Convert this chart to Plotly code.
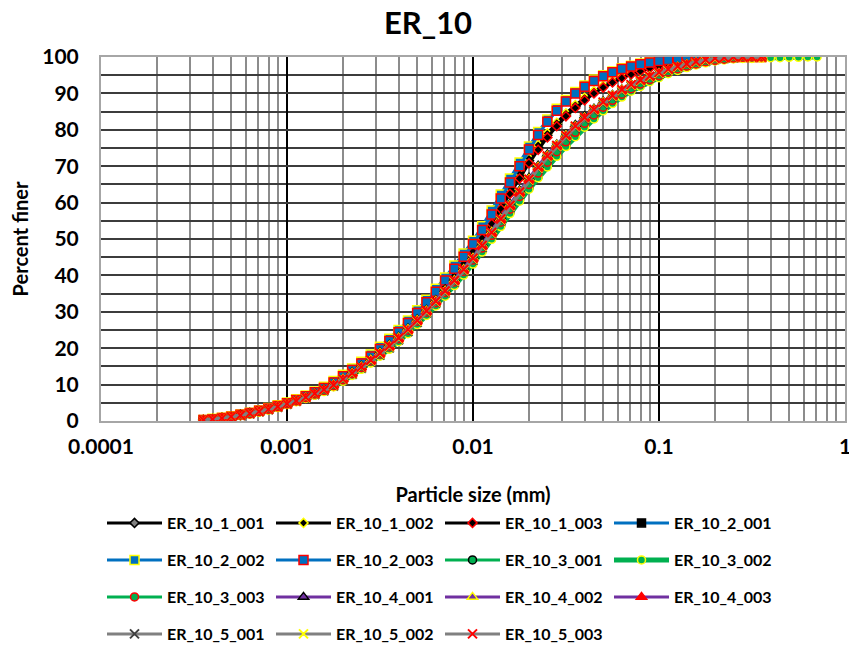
import plotly.graph_objects as go

# particle size bins (mm)
size_mm = [0.000355, 0.000398, 0.000447, 0.000501, 0.000562, 0.000631, 0.000708, 0.000794, 0.000891,
           0.001, 0.00112, 0.00126, 0.00141, 0.00158, 0.00178, 0.002, 0.00224, 0.00251, 0.00282, 0.00316,
           0.00355, 0.00398, 0.00447, 0.00501, 0.00562, 0.00631, 0.00708, 0.00794, 0.00891,
           0.01, 0.0112, 0.0126, 0.0141, 0.0158, 0.0178, 0.02, 0.0224, 0.0251, 0.0282, 0.0316,
           0.0355, 0.0398, 0.0447, 0.0501, 0.0562, 0.0631, 0.0708, 0.0794, 0.0891,
           0.1, 0.112, 0.126, 0.141, 0.158, 0.178, 0.2, 0.224, 0.251, 0.282, 0.316, 0.355]
size_mm_long = size_mm + [0.398, 0.447, 0.501, 0.562, 0.631, 0.708]

ER_10_1_001 = [0.3,0.6,0.9,1.3,1.7,2.2,2.8,3.4,4.1,4.9,5.7,6.7,7.8,8.9,10.4,12.1,13.7,15.5,17.4,19.4,21.5,23.9,26.3,29.0,31.7,34.6,37.6,40.7,43.9,47.2,51.0,55.0,59.1,63.2,67.4,71.5,75.2,78.5,81.5,84.1,86.4,88.5,90.3,91.9,93.2,94.4,95.4,96.2,97.0,97.6,98.1,98.6,99.0,99.3,99.5,99.7,99.9,100,100,100,100]
ER_10_1_002 = [0.3,0.6,0.9,1.3,1.7,2.2,2.8,3.4,4.1,4.9,5.8,6.8,7.9,9.0,10.5,12.3,14.0,15.8,17.8,19.8,22.0,24.4,26.9,29.6,32.4,35.3,38.3,41.4,44.6,48.0,51.8,55.8,59.9,64.0,68.1,72.1,75.8,79.0,81.9,84.5,86.8,88.8,90.6,92.1,93.4,94.6,95.5,96.3,97.1,97.7,98.2,98.7,99.1,99.4,99.6,99.8,99.9,100,100,100,100]
ER_10_1_003 = [0.3,0.5,0.8,1.2,1.6,2.1,2.7,3.3,4.0,4.8,5.6,6.6,7.6,8.7,10.2,11.8,13.4,15.2,17.0,19.0,21.1,23.4,25.8,28.4,31.1,34.0,37.0,40.1,43.3,46.6,50.3,54.2,58.3,62.4,66.6,70.8,74.5,77.9,81.0,83.7,86.0,88.1,90.0,91.6,93.0,94.2,95.2,96.1,96.9,97.5,98.0,98.5,98.9,99.2,99.5,99.7,99.8,99.9,100,100,100]
ER_10_2_001 = [0.3,0.6,0.9,1.3,1.8,2.3,2.9,3.5,4.2,5.0,5.9,6.9,8.0,9.2,10.8,12.5,14.2,16.0,18.0,20.1,22.3,24.7,27.2,30.0,32.9,35.9,39.0,42.2,45.5,49.0,53.0,57.2,61.6,66.0,70.5,75.0,79.0,82.5,85.5,88.0,90.2,92.0,93.6,94.9,95.9,96.8,97.5,98.1,98.6,99.0,99.3,99.5,99.7,99.8,99.9,99.9,100,100,100,100,100]
ER_10_2_002 = [0.3,0.6,0.9,1.3,1.8,2.3,2.9,3.6,4.3,5.1,6.0,7.0,8.1,9.4,11.0,12.7,14.4,16.3,18.3,20.4,22.6,25.0,27.6,30.4,33.3,36.3,39.4,42.7,46.0,49.5,53.5,57.8,62.2,66.6,71.0,75.4,79.4,82.8,85.8,88.2,90.4,92.2,93.8,95.0,96.0,96.9,97.6,98.2,98.7,99.1,99.4,99.6,99.8,99.9,99.9,100,100,100,100,100,100]
ER_10_2_003 = [0.3,0.5,0.8,1.2,1.7,2.2,2.8,3.4,4.1,4.9,5.8,6.8,7.9,9.1,10.6,12.3,14.0,15.8,17.7,19.8,22.0,24.4,26.9,29.7,32.6,35.5,38.6,41.8,45.1,48.6,52.5,56.7,61.1,65.5,70.0,74.6,78.6,82.2,85.2,87.8,90.0,91.8,93.4,94.7,95.8,96.7,97.4,98.0,98.5,98.9,99.2,99.5,99.7,99.8,99.9,99.9,100,100,100,100,100]
ER_10_3_001 = [0.3,0.5,0.7,1.2,1.5,2.0,2.5,3.1,3.8,4.6,5.4,6.3,7.2,8.2,9.5,11.1,12.7,14.4,16.1,18.0,19.9,22.1,24.3,26.8,29.3,31.9,34.6,37.5,40.4,43.4,46.7,50.2,53.7,57.3,60.7,64.0,67.1,70.1,73.0,75.7,78.4,81.0,83.3,85.5,87.5,89.3,90.9,92.2,93.5,94.6,95.7,96.6,97.4,98.0,98.6,99.1,99.4,99.6,99.8,99.9,100]
ER_10_3_002 = [0.3,0.5,0.7,1.1,1.5,1.9,2.4,3.0,3.7,4.5,5.3,6.2,7.1,8.1,9.4,10.9,12.5,14.2,15.9,17.8,19.7,21.8,24.0,26.5,29.0,31.6,34.3,37.2,40.1,43.1,46.4,49.9,53.4,57.0,60.4,63.7,66.8,69.8,72.7,75.4,78.1,80.7,83.0,85.2,87.2,89.0,90.6,91.9,93.2,94.3,95.4,96.3,97.1,97.8,98.4,98.9,99.2,99.5,99.6,99.6,99.7,99.8,99.8,99.9,99.9,100,100]
ER_10_3_003 = [0.3,0.5,0.8,1.2,1.6,2.0,2.6,3.2,3.9,4.7,5.5,6.4,7.4,8.4,9.7,11.3,13.0,14.7,16.5,18.4,20.4,22.6,24.9,27.4,29.9,32.5,35.3,38.2,41.1,44.2,47.5,51.0,54.6,58.2,61.7,65.0,68.1,71.1,74.0,76.7,79.3,81.8,84.1,86.2,88.1,89.8,91.3,92.6,93.8,94.9,95.9,96.8,97.5,98.1,98.7,99.1,99.4,99.7,99.9,100,100]
ER_10_4_001 = [0.3,0.5,0.8,1.2,1.7,2.2,2.7,3.3,4.0,4.8,5.6,6.6,7.6,8.7,10.1,11.7,13.4,15.1,17.0,18.9,20.9,23.1,25.4,27.9,30.5,33.2,36.1,39.0,42.0,45.1,48.6,52.2,55.9,59.6,63.3,66.8,70.1,73.2,76.0,78.7,81.3,83.7,85.8,87.8,89.6,91.1,92.5,93.7,94.8,95.8,96.6,97.4,98.1,98.7,99.2,99.5,99.8,99.9,100,100,100]
ER_10_4_002 = [0.3,0.5,0.8,1.2,1.6,2.1,2.7,3.3,4.0,4.8,5.6,6.5,7.5,8.6,10.0,11.6,13.2,14.9,16.8,18.7,20.7,22.9,25.2,27.7,30.3,33.0,35.8,38.7,41.7,44.8,48.3,51.9,55.6,59.3,63.0,66.5,69.8,72.9,75.8,78.5,81.0,83.4,85.6,87.6,89.4,91.0,92.4,93.6,94.7,95.6,96.5,97.3,98.0,98.6,99.1,99.5,99.7,99.9,100,100,100]
ER_10_4_003 = [0.3,0.5,0.8,1.2,1.6,2.1,2.6,3.2,3.9,4.7,5.5,6.4,7.4,8.5,9.8,11.4,13.0,14.7,16.5,18.4,20.4,22.6,24.9,27.4,30.0,32.7,35.5,38.4,41.4,44.5,48.0,51.6,55.3,59.0,62.7,66.2,69.5,72.6,75.5,78.2,80.8,83.2,85.4,87.4,89.2,90.8,92.2,93.4,94.5,95.5,96.4,97.2,97.9,98.5,99.0,99.4,99.7,99.9,100,100,100]
ER_10_5_001 = [0.3,0.5,0.8,1.1,1.5,2.0,2.5,3.1,3.8,4.6,5.4,6.3,7.3,8.3,9.6,11.2,12.8,14.5,16.2,18.1,20.1,22.3,24.6,27.1,29.7,32.4,35.2,38.1,41.1,44.2,47.7,51.3,55.0,58.7,62.4,65.9,69.2,72.3,75.2,77.9,80.5,82.9,85.1,87.1,88.9,90.5,92.0,93.2,94.3,95.3,96.2,97.0,97.7,98.3,98.8,99.3,99.6,99.8,100,100,100]
ER_10_5_002 = [0.3,0.5,0.8,1.2,1.6,2.1,2.6,3.2,3.9,4.7,5.5,6.4,7.4,8.5,9.8,11.4,13.0,14.7,16.5,18.4,20.4,22.6,24.9,27.4,30.0,32.7,35.5,38.4,41.4,44.5,48.0,51.6,55.3,59.0,62.7,66.2,69.5,72.6,75.5,78.2,80.8,83.2,85.4,87.4,89.2,90.8,92.2,93.4,94.5,95.5,96.4,97.2,97.9,98.5,99.0,99.4,99.7,99.9,100,100,100]
ER_10_5_003 = [0.3,0.5,0.8,1.2,1.6,2.1,2.6,3.2,3.9,4.7,5.5,6.5,7.5,8.6,9.9,11.5,13.1,14.8,16.7,18.6,20.6,22.8,25.1,27.6,30.2,32.9,35.7,38.6,41.6,44.7,48.2,51.8,55.5,59.2,62.9,66.4,69.7,72.8,75.7,78.4,81.0,83.4,85.6,87.6,89.4,91.0,92.4,93.6,94.7,95.7,96.6,97.4,98.1,98.7,99.2,99.6,99.8,100,100,100,100]

series_names = ["ER_10_1_001", "ER_10_1_002", "ER_10_1_003",
                "ER_10_2_001", "ER_10_2_002", "ER_10_2_003",
                "ER_10_3_001", "ER_10_3_002", "ER_10_3_003",
                "ER_10_4_001", "ER_10_4_002", "ER_10_4_003",
                "ER_10_5_001", "ER_10_5_002", "ER_10_5_003"]
series_values = [ER_10_1_001, ER_10_1_002, ER_10_1_003,
                 ER_10_2_001, ER_10_2_002, ER_10_2_003,
                 ER_10_3_001, ER_10_3_002, ER_10_3_003,
                 ER_10_4_001, ER_10_4_002, ER_10_4_003,
                 ER_10_5_001, ER_10_5_002, ER_10_5_003]

x_tick_vals = [0.0001, 0.001, 0.01, 0.1, 1]
x_tick_text = ["0.0001", "0.001", "0.01", "0.1", "1"]

BLACK, BLUE, GREEN, PURPLE, GREY = "#000000", "#0070C0", "#00B050", "#7030A0", "#808080"
# (line colour, line width, symbol, fill, edge, size)
styles = [
    (BLACK, 3, "diamond", "#808080", "#000000", 7),
    (BLACK, 3, "diamond", "#000000", "#FFFF00", 7),
    (BLACK, 3, "diamond", "#000000", "#FF0000", 7),
    (BLUE, 3, "square", "#000000", "#000000", 8),
    (BLUE, 3, "square", BLUE, "#FFFF00", 9),
    (BLUE, 3, "square", BLUE, "#FF0000", 9),
    (GREEN, 3, "circle", GREEN, "#000000", 8),
    (GREEN, 5, "circle", GREEN, "#FFFF00", 8),
    (GREEN, 3, "circle", GREEN, "#FF0000", 8),
    (PURPLE, 3, "triangle-up", PURPLE, "#000000", 9),
    (PURPLE, 3, "triangle-up", PURPLE, "#FFFF00", 9),
    (PURPLE, 3, "triangle-up", "#FF0000", "#FF0000", 9),
    (GREY, 3, "x-thin", GREY, "#404040", 9),
    (GREY, 3, "x-thin", GREY, "#FFFF00", 9),
    (GREY, 3, "x-thin", GREY, "#FF0000", 9),
]

FONT = "Lato"
# the page places the figure 8 px from the top-left corner; compensate here
OFF = 8
W, H = 857 - OFF, 654 - OFF

fig = go.Figure()
for i, (name, vals) in enumerate(zip(series_names, series_values)):
    lc, lw, sym, fill, edge, msz = styles[i]
    xs = size_mm_long if len(vals) == len(size_mm_long) else size_mm
    legend_id = "legend" if i < 4 else ("legend2" if i < 8 else ("legend3" if i < 12 else "legend4"))
    fig.add_trace(go.Scatter(
        x=xs, y=vals, name=name, mode="lines+markers",
        line=dict(color=lc, width=lw),
        marker=dict(symbol=sym, size=msz, color=fill if sym != "x-thin" else edge,
                    line=dict(color=edge, width=2 if sym == "x-thin" else 1.5)),
        legend=legend_id,
    ))

row_y = [523 - OFF, 560 - OFF, 597 - OFF, 634 - OFF]
legend_common = dict(orientation="h", xref="container", yref="container",
                     x=(102 - OFF) / W, xanchor="left", yanchor="middle",
                     font=dict(family=FONT, size=16, color="#000000", weight="bold"),
                     entrywidth=99, entrywidthmode="pixels", itemwidth=55,
                     bgcolor="rgba(0,0,0,0)", tracegroupgap=0)

fig.update_layout(
    width=W, height=H,
    margin=dict(l=101 - OFF, r=12, t=57 - OFF, b=233, autoexpand=False),
    paper_bgcolor="white", plot_bgcolor="white",
    font=dict(family=FONT, color="#000000"),
    title=dict(text="<b>ER_10</b>", x=(428 - OFF) / W, xref="container", xanchor="center",
               y=1 - (23 - OFF) / H, yref="container", yanchor="middle",
               font=dict(family=FONT, size=31, color="#000000")),
    showlegend=True,
    legend=dict(legend_common, y=1 - row_y[0] / H),
    legend2=dict(legend_common, y=1 - row_y[1] / H),
    legend3=dict(legend_common, y=1 - row_y[2] / H),
    legend4=dict(legend_common, y=1 - row_y[3] / H),
)

fig.update_xaxes(
    type="log", range=[-4, 0],
    tickvals=x_tick_vals, ticktext=x_tick_text,
    tickfont=dict(family=FONT, size=21, color="#000000", weight="bold"),
    ticks="", ticklabelstandoff=6,
    showgrid=True, gridcolor="#000000", gridwidth=2,
    minor=dict(dtick="D1", showgrid=True, gridcolor="#8C8C8C", gridwidth=2, ticks=""),
    showline=True, mirror=True, linecolor="#A6A6A6", linewidth=2,
    zeroline=False, automargin=False,
    title=dict(text="<b>Particle size (mm)</b>", standoff=32,
               font=dict(family=FONT, size=20, color="#000000")),
)
fig.update_yaxes(
    range=[0, 100], dtick=10,
    tickfont=dict(family=FONT, size=21, color="#000000", weight="bold"),
    ticks="", ticklabelstandoff=16,
    showgrid=True, gridcolor="#3C3C3C", gridwidth=2,
    minor=dict(dtick=5, showgrid=True, gridcolor="#3C3C3C", gridwidth=2, ticks=""),
    showline=True, mirror=True, linecolor="#A6A6A6", linewidth=2,
    zeroline=False, automargin=False,
    title=dict(text="<b>Percent finer</b>", standoff=12,
               font=dict(family=FONT, size=20, color="#000000")),
)

fig.write_html("out.html")
